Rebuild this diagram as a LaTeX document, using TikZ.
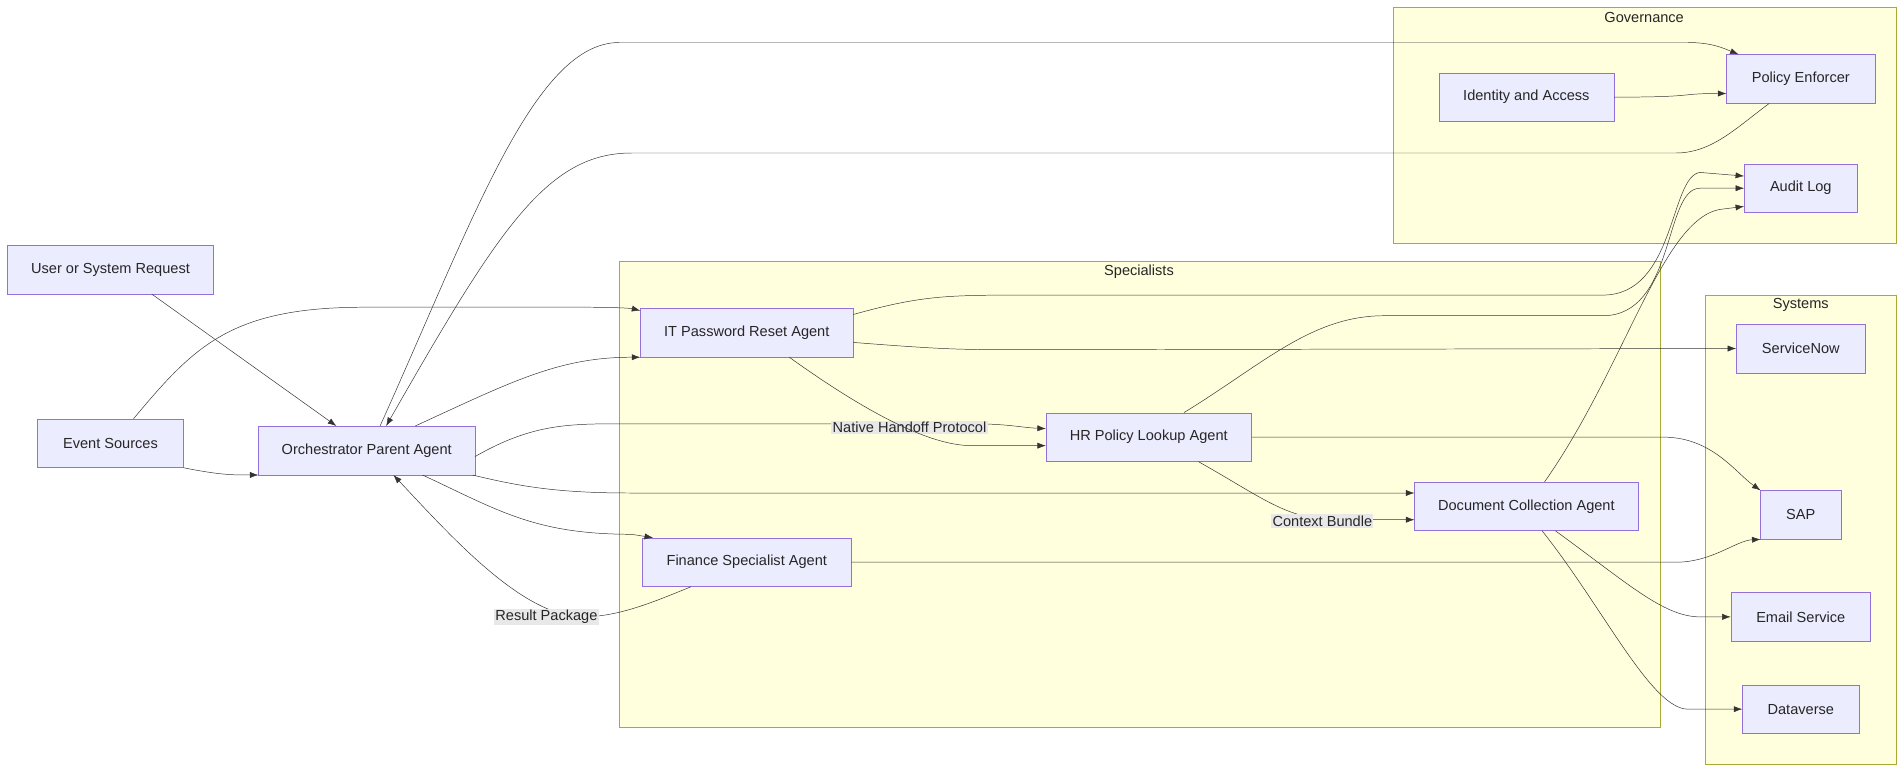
\documentclass[tikz,border=0pt]{standalone}
\usepackage{fontspec}
\setmainfont{Liberation Sans}
\usetikzlibrary{arrows.meta,positioning,backgrounds}
\definecolor{boxfill}{HTML}{ECECFF}
\definecolor{boxline}{HTML}{9370DB}
\definecolor{grpfill}{HTML}{FFFFDE}
\definecolor{grpline}{HTML}{AAAA33}
\definecolor{edgeline}{HTML}{333333}
\definecolor{lblfill}{HTML}{E8E8E8}
\tikzset{
  box/.style={draw=boxline, fill=boxfill, minimum height=40pt, inner sep=0pt,
    font=\fontsize{12}{14}\selectfont, text=black!85},
  group/.style={draw=grpline, fill=grpfill},
  grouplabel/.style={font=\fontsize{12}{14}\selectfont, text=black!85},
  flow/.style={draw=edgeline, -{Latex[length=7pt,width=5pt]}},
  tag/.style={fill=lblfill, inner sep=1pt, font=\fontsize{12}{14}\selectfont, text=black!85}
}
\begin{document}
\begin{tikzpicture}[x=1pt,y=-1pt]
\useasboundingbox (0,0) rectangle (1568,635);
% groups
\draw[group] (1147,6) rectangle (1562,200);
\node[grouplabel] (govlabel) at (1354,14) {Governance};
\draw[group] (510,215) rectangle (1367,599);
\node[grouplabel] (speclabel) at (938,224) {Specialists};
\draw[group] (1404,243) rectangle (1562,629);
\node[grouplabel] (syslabel) at (1483,251) {Systems};
% nodes
\node[box, minimum width=122pt] (policy) at (1483,65) {Policy Enforcer};
\node[box, minimum width=144pt] (identity) at (1257,80) {Identity and Access};
\node[box, minimum width=93pt] (audit) at (1483,155) {Audit Log};
\node[box, minimum width=170pt] (request) at (91,222) {User or System Request};
\node[box, minimum width=120pt] (events) at (91,365) {Event Sources};
\node[box, minimum width=178pt] (orch) at (302,371) {Orchestrator Parent Agent};
\node[box, minimum width=175pt] (itreset) at (615,274) {IT Password Reset Agent};
\node[box, minimum width=169pt] (hrlookup) at (946,360) {HR Policy Lookup Agent};
\node[box, minimum width=184pt] (doccollect) at (1257,417) {Document Collection Agent};
\node[box, minimum width=172pt] (finance) at (615,463) {Finance Specialist Agent};
\node[box, minimum width=106pt] (servicenow) at (1483,287) {ServiceNow};
\node[box, minimum width=66pt] (sap) at (1483,424) {SAP};
\node[box, minimum width=115pt] (email) at (1483,508) {Email Service};
\node[box, minimum width=96pt] (dataverse) at (1483,584) {Dataverse};
% edges
\draw[flow] ([xshift=34pt]request.south) -- ([xshift=-25pt]orch.north);
\draw[flow] (events.south east) .. controls (185,392) and (195,391) .. (orch.south west);
\draw[flow] ([xshift=19pt]events.north) .. controls (160,285) and (190,253) .. (300,253)
  -- (480,253) .. controls (510,253) and (520,254) .. ([yshift=-2pt]itreset.north west);
\draw[flow] ([xshift=40pt]orch.north) .. controls (420,315) and (460,294) .. (itreset.south west);
\draw[flow] ([xshift=11pt]orch.north) .. controls (390,180) and (440,35) .. (510,35)
  -- (1390,35) .. controls (1410,35) and (1420,40) .. ([xshift=10pt]policy.north west);
\draw[flow] ([xshift=-26pt]policy.south) .. controls (1430,105) and (1410,126) .. (1380,126)
  -- (520,126) .. controls (450,126) and (410,190) .. ([xshift=16pt]orch.north);
\draw[flow] ([yshift=-5pt]orch.east) .. controls (440,348) and (470,349) .. (520,349)
  -- (800,349) .. controls (830,349) and (840,352) .. ([yshift=7pt]hrlookup.west);
\node[tag] (handoff) at (749,352) {Native Handoff Protocol};
\draw[flow] ([xshift=35pt]itreset.south) .. controls (700,330) and (760,367) .. (800,367)
  -- ([yshift=-7pt]hrlookup.west);
\draw[flow] ([xshift=-2pt]orch.south east) .. controls (430,401) and (460,406) .. (520,406)
  -- ([yshift=11pt]doccollect.west);
\draw[flow] ([xshift=46pt]orch.south) .. controls (410,420) and (440,440) .. (520,440)
  -- ([xshift=9pt]finance.north west);
\draw[flow] ([xshift=41pt]hrlookup.south) .. controls (1040,410) and (1060,428) .. (1100,428)
  -- ([yshift=-11pt]doccollect.west);
\node[tag] (bundle) at (1089,429) {Context Bundle};
\draw[flow] ([xshift=-46pt]finance.south) .. controls (540,495) and (510,508) .. (480,508)
  .. controls (430,508) and (370,440) .. ([xshift=22pt]orch.south);
\node[tag] (result) at (450,508) {Result Package};
\draw[flow] ([yshift=15pt]itreset.east) .. controls (760,243) and (780,243) .. (850,243)
  -- (1320,243) .. controls (1380,243) and (1375,145) .. (1400,142) -- ([yshift=10pt]audit.west);
\draw[flow] ([xshift=29pt]hrlookup.north) .. controls (1040,300) and (1080,260) .. (1140,260)
  -- (1320,260) .. controls (1380,260) and (1370,155) .. (1400,155) -- (audit.west);
\draw[flow] ([xshift=15pt]doccollect.north) .. controls (1340,300) and (1370,175) .. (1420,172)
  -- ([yshift=-15pt]audit.west);
\draw[flow] (identity.east) .. controls (1400,80) and (1380,77) .. ([yshift=-12pt]policy.west);
\draw[flow] ([yshift=-8pt]itreset.east) .. controls (780,288) and (790,288) .. (850,288)
  -- (servicenow.west);
\draw[flow] (hrlookup.east) -- (1370,360) .. controls (1410,360) and (1430,390) .. (sap.north west);
\draw[flow] (finance.east) -- (1380,463) .. controls (1410,463) and (1430,445) .. (sap.south west);
\draw[flow] ([xshift=24pt]doccollect.south) .. controls (1340,480) and (1370,508) .. (1400,508)
  -- (email.west);
\draw[flow] ([xshift=13pt]doccollect.south) .. controls (1320,500) and (1360,584) .. (1390,584)
  -- (dataverse.west);
\end{tikzpicture}
\end{document}
